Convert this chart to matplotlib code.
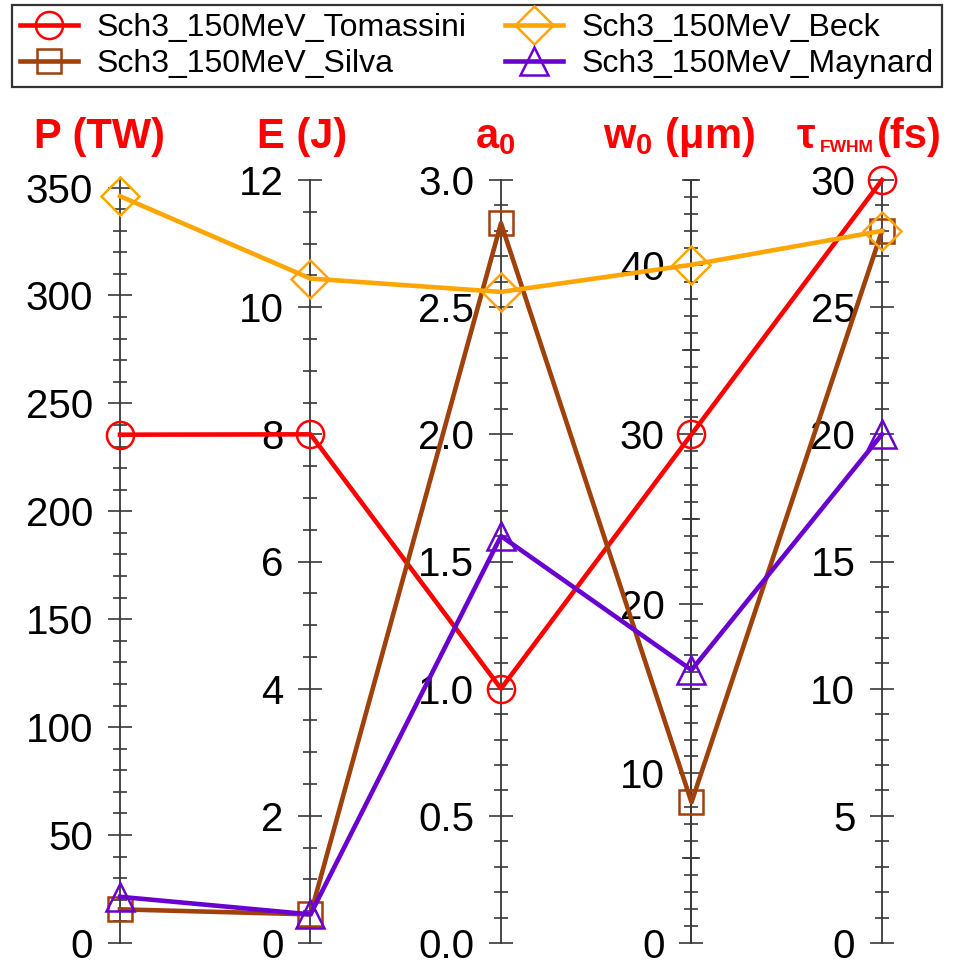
import matplotlib
matplotlib.use("Agg")
import matplotlib.pyplot as plt
from matplotlib.ticker import MultipleLocator, FixedLocator, NullFormatter, FuncFormatter

plt.rcParams['font.family'] = ['Liberation Sans', 'DejaVu Sans']
plt.rcParams['mathtext.fontset'] = 'custom'
plt.rcParams['mathtext.rm'] = 'Liberation Sans:bold'
plt.rcParams['mathtext.it'] = 'Liberation Sans:bold'
plt.rcParams['mathtext.bf'] = 'Liberation Sans:bold'
plt.rcParams['mathtext.default'] = 'rm'

# Laser parameter axes
axis_titles = ["P (TW)", "E (J)", "a$_0$", "w$_0$ (\u03bcm)"]
tau_title = ["\u03c4", "FWHM", "(fs)"]
axis_max = [353.5, 12.0, 3.0, 45.0, 30.0]
axis_major = [50, 2, 0.5, 10, 5]
axis_minor = [10, 0.5, 0.1, 1, 1]
axis_fmt = ["{:.0f}", "{:.0f}", "{:.1f}", "{:.0f}", "{:.0f}"]
w0_mid_ticks = [5, 15, 25, 35, 45]

# Parameter sets (P, E, a0, w0, tau)
series_names = ["Sch3_150MeV_Tomassini", "Sch3_150MeV_Silva",
                "Sch3_150MeV_Beck", "Sch3_150MeV_Maynard"]
tomassini = [235.5, 8.0, 1.0, 30.0, 30.0]
silva = [15.6, 0.45, 2.83, 8.3, 28.0]
beck = [346.0, 10.45, 2.56, 40.0, 28.0]
maynard = [21.4, 0.45, 1.6, 16.1, 20.0]
series_values = [tomassini, silva, beck, maynard]
series_colors = ["#FF0000", "#A0400A", "#FFA500", "#6A00D0"]
series_markers = ["o", "s", "D", "^"]
series_msize = [19.5, 17.5, 19.5, 19.5]

W, H = 954, 961
fig = plt.figure(figsize=(W / 100, H / 100), dpi=100)
x_left, x_right, y_bot, y_top = 120, 882, 943, 180
rect = [x_left / W, 1 - y_bot / H, (x_right - x_left) / W, (y_bot - y_top) / H]

n = len(axis_max)
axis_color = "#383838"


def vertical_axis(i, major, minor=None, labels=True, major_len=17.5):
    ax = fig.add_axes(rect, frameon=True)
    ax.patch.set_visible(False)
    for side in ("right", "top", "bottom"):
        ax.spines[side].set_visible(False)
    ax.spines["left"].set_position(("axes", i / (n - 1)))
    ax.spines["left"].set_color(axis_color)
    ax.spines["left"].set_linewidth(1.3)
    ax.set_ylim(0, axis_max[i])
    ax.set_xticks([])
    ax.yaxis.set_major_locator(major)
    if minor is not None:
        ax.yaxis.set_minor_locator(minor)
    if labels:
        fmt = axis_fmt[i]
        ax.yaxis.set_major_formatter(FuncFormatter(lambda v, p, f=fmt: f.format(v)))
    else:
        ax.yaxis.set_major_formatter(NullFormatter())
    ax.tick_params(axis="y", which="major", direction="inout", length=major_len,
                   width=1.2, color=axis_color, labelsize=29, pad=10.5)
    ax.tick_params(axis="y", which="minor", direction="inout", length=9.5,
                   width=1.2, color=axis_color)
    return ax


for i in range(n):
    vertical_axis(i, MultipleLocator(axis_major[i]), MultipleLocator(axis_minor[i]))
# intermediate ticks at the half-decades of the spot size axis
vertical_axis(3, FixedLocator(w0_mid_ticks), labels=False, major_len=13)

# Polylines across the normalized axes
host = fig.add_axes(rect, frameon=False)
host.patch.set_visible(False)
host.set_xlim(0, n - 1)
host.set_ylim(0, 1)
host.set_xticks([])
host.set_yticks([])
xs = list(range(n))
handles = []
for vals, name, c, m, ms in zip(series_values, series_names, series_colors,
                                series_markers, series_msize):
    ys = [v / mx for v, mx in zip(vals, axis_max)]
    ln, = host.plot(xs, ys, color=c, lw=3.3, marker=m, ms=ms, mfc="none",
                    mec=c, mew=1.8, clip_on=False, label=name)
    handles.append(ln)

# Axis titles
title_kw = dict(color="#FF0000", fontweight="bold", va="baseline")
title_cx = [100, 302, 495, 679]
base_y = 1 - 148 / H
for t, cx in zip(axis_titles, title_cx):
    fig.text(cx / W, base_y, t, fontsize=30, ha="center", **title_kw)
fig.text(797 / W, base_y, tau_title[0], fontsize=30, ha="left", **title_kw)
fig.text(820 / W, 1 - 152 / H, tau_title[1], fontsize=12.5, ha="left", **title_kw)
fig.text(877 / W, base_y, tau_title[2], fontsize=30, ha="left", **title_kw)

leg = fig.legend(handles=handles, loc="upper center", bbox_to_anchor=(0.5, 1 - 5 / H),
                 ncol=2, fontsize=23, frameon=True, fancybox=False, edgecolor="black",
                 handlelength=1.8, handletextpad=0.6, columnspacing=1.2,
                 labelspacing=0.18, borderpad=0.25, borderaxespad=0)
leg.get_frame().set_linewidth(1.6)

fig.savefig("out.png", dpi=100)
